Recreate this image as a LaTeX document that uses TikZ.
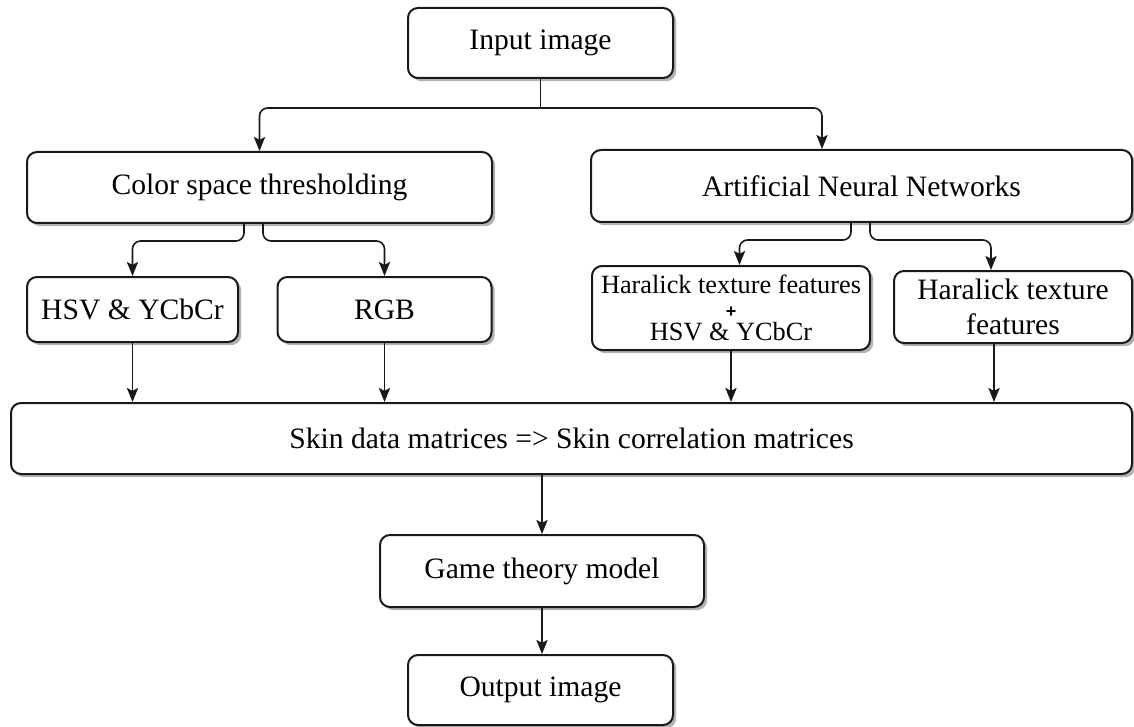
\documentclass[tikz,border=0pt]{standalone}
\usepackage{fontspec}
\setmainfont{Liberation Serif}
\newfontfamily\plusfont{Liberation Sans}
\usetikzlibrary{arrows.meta,shadows,calc}
\begin{document}
\begin{tikzpicture}[x=0.5pt,y=-0.5pt,
  box/.style={draw=black!90, line width=1pt, rounded corners=5pt, fill=white, align=center, inner sep=0pt,
     drop shadow={shadow xshift=1.6pt, shadow yshift=-1.6pt, fill=black, opacity=0.3},
     font=\fontsize{14.8pt}{17.5pt}\selectfont},
  sz/.style 2 args={minimum width=#1*0.5pt, minimum height=#2*0.5pt},
  conn/.style={line width=0.8pt, draw=black!90, -{Stealth[length=7pt,width=5.6pt,inset=1.4pt]}},
  plainline/.style={line width=0.8pt, draw=black!90},
]
\useasboundingbox (0,0) rectangle (1134,727);
\node[box, sz={265}{70}] (in) at (540.5,43) {Input image};
\node[box, sz={465}{71}] (cst) at (259.5,187.5) {Color space thresholding};
\node[box, sz={541}{72}] (ann) at (861.5,186) {Artificial Neural Networks};
\node[box, sz={211}{65}] (hsv) at (132.5,309.5) {HSV \& YCbCr};
\node[box, sz={214}{65}] (rgb) at (384.5,309.5) {RGB};
\node[box, sz={278}{84}, font=\fontsize{13.15pt}{11.75pt}\selectfont] (hh) at (731,308) {Haralick texture features\\{\plusfont\bfseries\fontsize{9pt}{9pt}\selectfont +}\\HSV \& YCbCr};
\node[box, sz={238}{72}] (ht) at (1013,307) {Haralick texture\\features};
\node[box, sz={1121}{71}] (skin) at (571.5,438.5) {Skin data matrices => Skin correlation matrices};
\node[box, sz={324}{72}] (game) at (542,571) {Game theory model};
\node[box, sz={265}{70}] (out) at (540.5,690) {Output image};

\draw[plainline] (in.south) -- ++(0,29) coordinate (j);
\draw[conn, rounded corners=4pt] (j) -| (cst.north);
\draw[conn, rounded corners=4pt] (j) -| ($(ann.north)+(-39.5,0)$);
\draw[conn, rounded corners=4pt] ($(cst.south)+(-15.5,0)$) -- ++(0,17) -| (hsv.north);
\draw[conn, rounded corners=4pt] ($(cst.south)+(3.5,0)$) -- ++(0,17) -| (rgb.north);
\draw[conn, rounded corners=4pt] ($(ann.south)+(-10.5,0)$) -- ++(0,17) -| ($(hh.north)+(8.5,0)$);
\draw[conn, rounded corners=4pt] ($(ann.south)+(8.5,0)$) -- ++(0,17) -| ($(ht.north)+(-22,0)$);
\draw[conn] (hsv.south) -- (hsv.south |- skin.north);
\draw[conn] (rgb.south) -- (rgb.south |- skin.north);
\draw[conn] (hh.south) -- (hh.south |- skin.north);
\draw[conn] ($(ht.south)+(-19,0)$) coordinate (h4) -- (h4 |- skin.north);
\draw[conn] (game.north |- skin.south) -- (game.north);
\draw[conn] (game.south) -- (game.south |- out.north);
\end{tikzpicture}
\end{document}
